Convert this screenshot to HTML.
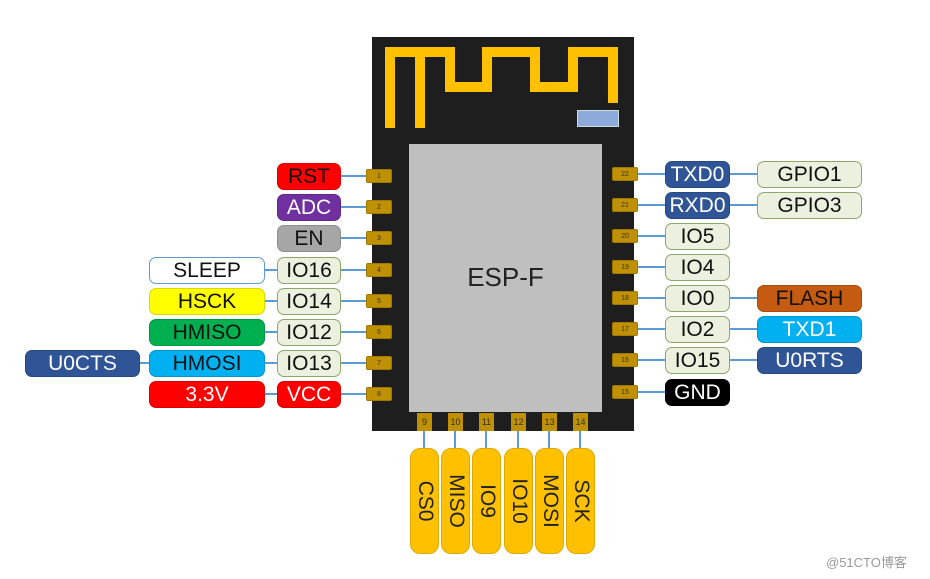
<!DOCTYPE html><html><head><meta charset="utf-8"><style>
body{margin:0;width:930px;height:579px;background:#fff;position:relative;overflow:hidden;font-family:"Liberation Sans",sans-serif}
div{position:absolute;box-sizing:border-box}
.l{height:27px;border-radius:7px;font-size:21px;line-height:25px;text-align:center;border:1px solid rgba(0,0,0,.15);color:#111}
.g{background:#ebf1de;border:1px solid #8aa86a}
.w{color:#fff}
.p{background:#bf9000;border:1px solid #a07800;height:14px;width:26px;font-size:7px;line-height:13px;text-align:center;color:#333;border-radius:2px}
.h{height:2px;background:#5b9bd5}
.v{width:2px;background:#5b9bd5}
.b{background:#bf9000;width:15px;height:18px;font-size:9px;text-align:center;line-height:18px;color:#333}
.pill{background:#ffc000;width:29px;height:106px;top:448px;border-radius:10px;border:1px solid #e0a800}
.pill span{position:absolute;left:50%;top:50%;transform:translate(-50%,-50%) rotate(90deg);font-size:21px;color:#222;white-space:nowrap}
</style></head><body>
<div style="left:372px;top:37px;width:262px;height:394px;background:#1e1e1e"></div>
<svg style="position:absolute;left:0;top:0" width="930" height="579"><path d="M390 128 V52 H450 V87 H487 V52 H535 V87 H573 V52 H613 V103 M420 128 V52" fill="none" stroke="#ffc000" stroke-width="10"/></svg>
<div style="left:577px;top:110px;width:42px;height:17px;background:#8eaadb;border:1px solid #cdd"></div>
<div style="left:409px;top:144px;width:193px;height:268px;background:#bfbfbf"></div>
<div style="left:409px;top:262px;width:193px;text-align:center;font-size:26px;color:#222">ESP-F</div>

<!-- left pads -->
<div class="p" style="left:366px;top:169px">1</div>
<div class="p" style="left:366px;top:200px">2</div>
<div class="p" style="left:366px;top:231px">3</div>
<div class="p" style="left:366px;top:263px">4</div>
<div class="p" style="left:366px;top:294px">5</div>
<div class="p" style="left:366px;top:325px">6</div>
<div class="p" style="left:366px;top:356px">7</div>
<div class="p" style="left:366px;top:387px">8</div>
<!-- right pads -->
<div class="p" style="left:612px;top:167px">22</div>
<div class="p" style="left:612px;top:198px">21</div>
<div class="p" style="left:612px;top:229px">20</div>
<div class="p" style="left:612px;top:260px">19</div>
<div class="p" style="left:612px;top:291px">18</div>
<div class="p" style="left:612px;top:322px">17</div>
<div class="p" style="left:612px;top:353px">16</div>
<div class="p" style="left:612px;top:385px">15</div>

<!-- left lines -->
<div class="h" style="left:341px;top:175px;width:25px"></div>
<div class="h" style="left:341px;top:206px;width:25px"></div>
<div class="h" style="left:341px;top:237px;width:25px"></div>
<div class="h" style="left:265px;top:269px;width:101px"></div>
<div class="h" style="left:265px;top:300px;width:101px"></div>
<div class="h" style="left:265px;top:331px;width:101px"></div>
<div class="h" style="left:140px;top:362px;width:226px"></div>
<div class="h" style="left:265px;top:393px;width:101px"></div>
<!-- right lines -->
<div class="h" style="left:638px;top:173px;width:119px"></div>
<div class="h" style="left:638px;top:204px;width:119px"></div>
<div class="h" style="left:638px;top:235px;width:27px"></div>
<div class="h" style="left:638px;top:266px;width:27px"></div>
<div class="h" style="left:638px;top:297px;width:119px"></div>
<div class="h" style="left:638px;top:328px;width:119px"></div>
<div class="h" style="left:638px;top:359px;width:119px"></div>
<div class="h" style="left:638px;top:391px;width:27px"></div>

<!-- left labels -->
<div class="l" style="left:277px;top:163px;width:64px;background:#ff0000">RST</div>
<div class="l w" style="left:277px;top:194px;width:64px;background:#7030a0">ADC</div>
<div class="l" style="left:277px;top:225px;width:64px;background:#a6a6a6">EN</div>
<div class="l g" style="left:277px;top:257px;width:64px">IO16</div>
<div class="l g" style="left:277px;top:288px;width:64px">IO14</div>
<div class="l g" style="left:277px;top:319px;width:64px">IO12</div>
<div class="l g" style="left:277px;top:350px;width:64px">IO13</div>
<div class="l w" style="left:277px;top:381px;width:64px;background:#ff0000">VCC</div>
<div class="l" style="left:149px;top:257px;width:116px;background:#fff;border-color:#5b9bd5">SLEEP</div>
<div class="l" style="left:149px;top:288px;width:116px;background:#ffff00">HSCK</div>
<div class="l" style="left:149px;top:319px;width:116px;background:#00b050">HMISO</div>
<div class="l" style="left:149px;top:350px;width:116px;background:#00b0f0">HMOSI</div>
<div class="l w" style="left:149px;top:381px;width:116px;background:#ff0000">3.3V</div>
<div class="l w" style="left:25px;top:350px;width:115px;background:#2f5597">U0CTS</div>

<!-- right labels -->
<div class="l w" style="left:665px;top:161px;width:65px;background:#2f5597">TXD0</div>
<div class="l w" style="left:665px;top:192px;width:65px;background:#2f5597">RXD0</div>
<div class="l g" style="left:665px;top:223px;width:65px">IO5</div>
<div class="l g" style="left:665px;top:254px;width:65px">IO4</div>
<div class="l g" style="left:665px;top:285px;width:65px">IO0</div>
<div class="l g" style="left:665px;top:316px;width:65px">IO2</div>
<div class="l g" style="left:665px;top:347px;width:65px">IO15</div>
<div class="l w" style="left:665px;top:379px;width:65px;background:#000">GND</div>
<div class="l g" style="left:757px;top:161px;width:105px">GPIO1</div>
<div class="l g" style="left:757px;top:192px;width:105px">GPIO3</div>
<div class="l" style="left:757px;top:285px;width:105px;background:#c55a11">FLASH</div>
<div class="l w" style="left:757px;top:316px;width:105px;background:#00b0f0">TXD1</div>
<div class="l w" style="left:757px;top:347px;width:105px;background:#2f5597">U0RTS</div>

<!-- bottom pads -->
<div class="b" style="left:417px;top:413px">9</div>
<div class="b" style="left:448px;top:413px">10</div>
<div class="b" style="left:479px;top:413px">11</div>
<div class="b" style="left:511px;top:413px">12</div>
<div class="b" style="left:542px;top:413px">13</div>
<div class="b" style="left:573px;top:413px">14</div>
<div class="v" style="left:423px;top:431px;height:17px"></div>
<div class="v" style="left:454px;top:431px;height:17px"></div>
<div class="v" style="left:485px;top:431px;height:17px"></div>
<div class="v" style="left:517px;top:431px;height:17px"></div>
<div class="v" style="left:548px;top:431px;height:17px"></div>
<div class="v" style="left:579px;top:431px;height:17px"></div>
<div class="pill" style="left:410px"><span>CS0</span></div>
<div class="pill" style="left:441px"><span>MISO</span></div>
<div class="pill" style="left:472px"><span>IO9</span></div>
<div class="pill" style="left:504px"><span>IO10</span></div>
<div class="pill" style="left:535px"><span>MOSI</span></div>
<div class="pill" style="left:566px"><span>SCK</span></div>
<div style="left:826px;top:552px;font-size:13px;color:#999;font-family:'Liberation Sans','Noto Sans CJK SC',sans-serif">@51CTO博客</div>
</body></html>
